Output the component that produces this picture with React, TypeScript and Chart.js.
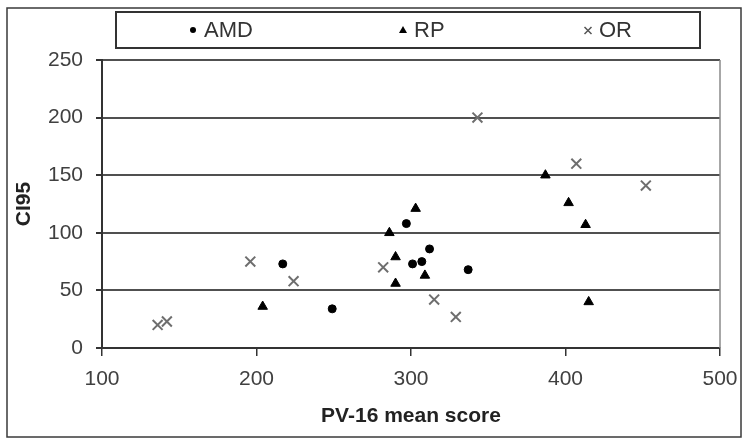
import React, { useEffect, useRef } from "react";
import { Chart, registerables } from "chart.js";

Chart.register(...registerables);

// AMD series
const amdX = [217, 249, 297, 301, 307, 312, 337];
const amdY = [73, 34, 108, 73, 75, 86, 68];
// RP series
const rpX = [204, 286, 290, 290, 303, 309, 387, 402, 413, 415];
const rpY = [36, 100, 79, 56, 121, 63, 150, 126, 107, 40];
// OR series
const orX = [136, 142, 196, 224, 282, 315, 329, 343, 407, 452];
const orY = [20, 23, 75, 58, 70, 42, 27, 200, 160, 141];

const seriesNames = ["AMD", "RP", "OR"];
const xTitle = "PV-16 mean score";
const yTitle = "CI95";
const xMin = 100, xMax = 500, xStep = 100;
const yMin = 0, yMax = 250, yStep = 50;

const FONT = "'Liberation Sans', Arial, sans-serif";

const toPts = (xs: number[], ys: number[]) => xs.map((x, i) => ({ x, y: ys[i] }));

const framePlugin = {
  id: "frameLegend",
  afterDraw(chart: any) {
    const { ctx, chartArea } = chart;
    ctx.save();
    // outer frame
    ctx.strokeStyle = "#3a3a3a";
    ctx.lineWidth = 1.5;
    ctx.strokeRect(7, 8, 734, 429);
    // plot right border
    ctx.strokeStyle = "#8a8a8a";
    ctx.lineWidth = 1.5;
    ctx.beginPath();
    ctx.moveTo(chartArea.right, chartArea.top);
    ctx.lineTo(chartArea.right, chartArea.bottom);
    ctx.stroke();
    // legend box
    ctx.strokeStyle = "#333";
    ctx.lineWidth = 2;
    ctx.strokeRect(116, 12, 584, 36);
    const cy = 30;
    const markerX = [193, 403, 588];
    ctx.font = `22px ${FONT}`;
    ctx.textBaseline = "middle";
    ctx.textAlign = "left";
    chart.data.datasets.forEach((ds: any, i: number) => {
      const mx = markerX[i];
      ctx.fillStyle = "#000";
      ctx.strokeStyle = "#000";
      if (ds.pointStyle === "circle") {
        ctx.beginPath();
        ctx.arc(mx, cy, 3, 0, Math.PI * 2);
        ctx.fill();
      } else if (ds.pointStyle === "triangle") {
        ctx.beginPath();
        ctx.moveTo(mx, cy - 4);
        ctx.lineTo(mx + 4, cy + 3);
        ctx.lineTo(mx - 4, cy + 3);
        ctx.closePath();
        ctx.fill();
      } else {
        ctx.strokeStyle = "#555";
        ctx.lineWidth = 1.5;
        ctx.beginPath();
        ctx.moveTo(mx - 3.5, cy - 3);
        ctx.lineTo(mx + 3.5, cy + 4);
        ctx.moveTo(mx + 3.5, cy - 3);
        ctx.lineTo(mx - 3.5, cy + 4);
        ctx.stroke();
      }
      ctx.fillStyle = "#333";
      ctx.fillText(ds.label, mx + 11, cy + 1);
    });
    ctx.restore();
  },
};

export default function App() {
  const ref = useRef<HTMLCanvasElement>(null);
  useEffect(() => {
    if (!ref.current) return;
    const chart = new Chart(ref.current, {
      type: "scatter",
      data: {
        datasets: [
          {
            label: seriesNames[0],
            data: toPts(amdX, amdY),
            pointStyle: "circle",
            pointRadius: 4,
            backgroundColor: "#000",
            borderColor: "#000",
            borderWidth: 1,
          },
          {
            label: seriesNames[1],
            data: toPts(rpX, rpY),
            pointStyle: "triangle",
            pointRadius: 5.5,
            backgroundColor: "#000",
            borderColor: "#000",
            borderWidth: 1,
          },
          {
            label: seriesNames[2],
            data: toPts(orX, orY),
            pointStyle: "crossRot",
            pointRadius: 7,
            backgroundColor: "#6e6e6e",
            borderColor: "#6e6e6e",
            borderWidth: 2,
          },
        ],
      },
      options: {
        responsive: false,
        animation: false,
        layout: { padding: { top: 60, right: 30, left: 0, bottom: 0 } },
        plugins: { legend: { display: false }, tooltip: { enabled: false } },
        scales: {
          x: {
            type: "linear",
            min: xMin,
            max: xMax,
            afterFit: (s: any) => { s.height = 97; },
            ticks: {
              stepSize: xStep,
              color: "#404040",
              font: { family: FONT, size: 21 },
              padding: 11,
              maxRotation: 0,
            },
            grid: {
              drawOnChartArea: false,
              drawTicks: true,
              tickLength: 8,
              tickColor: "#333",
              color: "#333",
              lineWidth: 1.5,
            },
            border: { color: "#333", width: 2 },
            title: {
              display: true,
              text: xTitle,
              color: "#222",
              font: { family: FONT, size: 21, weight: "bold" },
              padding: { top: 0, bottom: 16 },
            },
          },
          y: {
            type: "linear",
            min: yMin,
            max: yMax,
            afterFit: (s: any) => { s.width = 102; },
            ticks: {
              stepSize: yStep,
              color: "#404040",
              font: { family: FONT, size: 21 },
              padding: 13,
            },
            grid: {
              color: "#505050",
              lineWidth: 2,
              tickLength: 6,
              tickColor: "#333",
            },
            border: { color: "#333", width: 2 },
            title: {
              display: true,
              text: yTitle,
              color: "#222",
              font: { family: FONT, size: 21, weight: "bold" },
              padding: { top: 12, bottom: 0 },
            },
          },
        },
      },
      plugins: [framePlugin],
    });
    return () => chart.destroy();
  }, []);
  return (
    <div style={{ position: "absolute", left: 0, top: 0, width: 750, height: 445, background: "#fff" }}>
      <canvas ref={ref} width={750} height={445} />
    </div>
  );
}
